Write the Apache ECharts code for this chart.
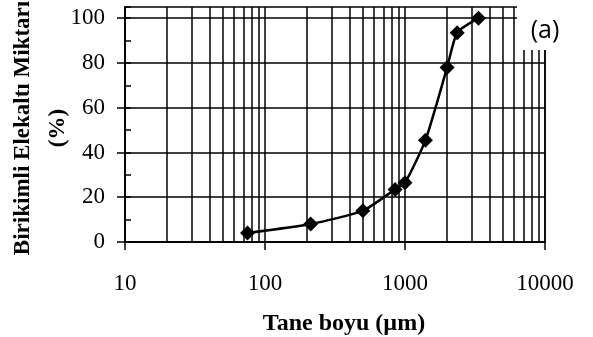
<!DOCTYPE html>
<html>
<head>
<meta charset="utf-8">
<script src="https://cdn.jsdelivr.net/npm/echarts@6/dist/echarts.min.js"></script>
<style>
  html, body { margin: 0; padding: 0; background: #fff; }
  #chart { width: 593px; height: 337px; }
</style>
</head>
<body>
<div id="chart"></div>
<script>
// sieve sizes (µm) and cumulative passing (%)
var sizes = [75, 212, 500, 850, 1000, 1400, 2000, 2360, 3350];
var passing = [4, 8, 14, 23.5, 26.5, 45.5, 78, 93.5, 100];

// log grid lines between decades
var minorLines = [20, 30, 40, 50, 60, 70, 80, 90,
                  200, 300, 400, 500, 600, 700, 800, 900,
                  2000, 3000, 4000, 5000, 6000, 7000, 8000, 9000];
var yTicks = [0, 20, 40, 60, 80, 100];

var serif = "'Liberation Serif', 'Times New Roman', serif";
var chart = echarts.init(document.getElementById('chart'));

var points = sizes.map(function (s, i) { return [s, passing[i]]; });

var option = {
    animation: false,
    grid: {
        left: 125, right: 48, top: 7, bottom: 95,
        outerBoundsMode: 'none',
        containLabel: false,
        show: true, borderColor: '#000', borderWidth: 1.5
    },
    xAxis: {
        type: 'log',
        logBase: 10,
        min: 10,
        max: 10000,
        name: 'Tane boyu (µm)',
        nameLocation: 'middle',
        nameGap: 70,
        nameTextStyle: {
            fontFamily: serif, fontSize: 24, fontWeight: 'bold', color: '#000',
            padding: [0, 0, 0, 18]
        },
        axisLine: { lineStyle: { color: '#000', width: 1.5 } },
        axisTick: { show: true, length: 8, lineStyle: { color: '#000', width: 1.5 } },
        axisLabel: {
            fontFamily: serif, fontSize: 23, color: '#000', margin: 30,
            formatter: function (v) { return String(Math.round(v)); }
        },
        splitLine: { show: true, lineStyle: { color: '#000', width: 1.5 } }
    },
    yAxis: [{
        type: 'value',
        min: 0,
        max: 105,
        interval: 20,
        axisLine: { show: true, lineStyle: { color: '#000', width: 1.5 } },
        axisTick: { show: true, length: 8, customValues: yTicks, lineStyle: { color: '#000', width: 1.5 } },
        axisLabel: {
            fontFamily: serif, fontSize: 23, color: '#000', margin: 20,
            customValues: yTicks,
            formatter: function (v) { return v % 20 === 0 ? v : ''; }
        },
        splitLine: { show: true, lineStyle: { color: '#000', width: 1.5 } }
    }, {
        // small inward minor ticks
        type: 'value',
        position: 'left',
        min: 0,
        max: 105,
        interval: 10,
        axisLine: { show: false },
        axisTick: { show: true, inside: true, length: 6, lineStyle: { color: '#000', width: 1.5 } },
        axisLabel: { show: false },
        splitLine: { show: false }
    }],
    graphic: [{
        type: 'text',
        x: 41, y: 128,
        rotation: Math.PI / 2,
        style: {
            text: 'Birikimli Elekaltı Miktarı\n(%)',
            fontFamily: serif, fontSize: 23, fontWeight: 'bold', fill: '#000',
            align: 'center', verticalAlign: 'middle', lineHeight: 35
        }
    }, {
        type: 'rect',
        z: 100,
        shape: { x: 517, y: 0, width: 76, height: 50 },
        style: { fill: '#fff' }
    }, {
        type: 'text',
        z: 101,
        x: 545, y: 31,
        style: {
            text: '(a)',
            fontFamily: "'Open Sans', sans-serif", fontSize: 25, fill: '#000',
            align: 'center', verticalAlign: 'middle'
        }
    }],
    series: [{
        type: 'line',
        data: points,
        smooth: 0.2,
        symbol: 'diamond',
        symbolSize: 15,
        itemStyle: { color: '#000' },
        lineStyle: { color: '#000', width: 2.5 },
        z: 5,
        markLine: {
            silent: true,
            symbol: ['none', 'none'],
            label: { show: false },
            lineStyle: { color: '#000', width: 1.5, type: 'solid' },
            data: minorLines.map(function (v) { return { xAxis: v }; })
        }
    }]
};

chart.setOption(option);
</script>
</body>
</html>
